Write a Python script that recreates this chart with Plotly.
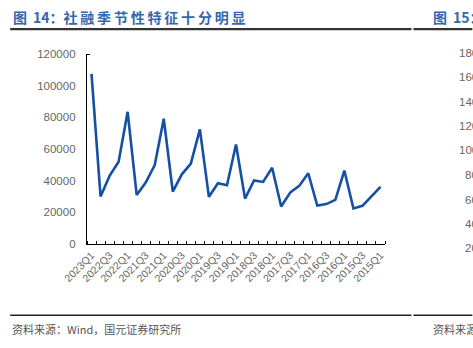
import plotly.graph_objects as go

quarters = ["2023Q1", "2022Q4", "2022Q3", "2022Q2", "2022Q1", "2021Q4", "2021Q3", "2021Q2",
            "2021Q1", "2020Q4", "2020Q3", "2020Q2", "2020Q1", "2019Q4", "2019Q3", "2019Q2",
            "2019Q1", "2018Q4", "2018Q3", "2018Q2", "2018Q1", "2017Q4", "2017Q3", "2017Q2",
            "2017Q1", "2016Q4", "2016Q3", "2016Q2", "2016Q1", "2015Q4", "2015Q3", "2015Q2",
            "2015Q1"]
social_financing = [107400, 30000, 43000, 52000, 83500, 31000, 38800, 49900,
                    79100, 33100, 44000, 50800, 72400, 29800, 38400, 37100,
                    62800, 28700, 40100, 39200, 48200, 23700, 32500, 36700,
                    44700, 24300, 25200, 27900, 46400, 22500, 24100, 30000,
                    36100]
y_ticks = [0, 20000, 40000, 60000, 80000, 100000, 120000]
right_chart_ticks = ["18000", "16000", "14000", "12000", "10000", "8000", "6000", "4000", "2000"]

W, H = 473, 348
L, R, T, B = 87, 87.5, 54, 103.5
PW, PH = W - L - R, H - T - B

def px(x):
    return (x - L) / PW

def py(y):
    return 1 - (y - T) / PH

def spaced(s):
    return "\u2009".join(s)

idx = list(range(len(quarters)))

fig = go.Figure()
fig.add_trace(go.Scatter(
    x=idx, y=social_financing, mode="lines",
    line=dict(color="#1450A3", width=2.6),
    hoverinfo="skip", showlegend=False,
))

gray = "#666666"
fig.update_layout(
    width=W, height=H,
    margin=dict(l=L, r=R, t=T, b=B, autoexpand=False),
    paper_bgcolor="white", plot_bgcolor="white",
    font=dict(family="Liberation Sans, Arial", size=11, color=gray),
    xaxis=dict(
        range=[-0.5, len(quarters) - 0.5],
        tickvals=idx[::2], ticktext=quarters[::2],
        tickangle=-45, ticks="", showgrid=False, zeroline=False,
        showline=True, linecolor="#000000", linewidth=1.3,
        tickfont=dict(size=10.5, color=gray),
        minor=dict(tick0=-0.5, dtick=1, ticks="inside", ticklen=3,
                   tickcolor="#000000", tickwidth=1, showgrid=False),
    ),
    yaxis=dict(
        range=[0, 120000], tickvals=y_ticks, tickformat="d",
        ticks="", showgrid=False, zeroline=False,
        showline=True, linecolor="#000000", linewidth=1.3,
        tickfont=dict(size=11.5, color=gray), ticklabelstandoff=8,
        minor=dict(tickvals=[120000], ticks="inside", ticklen=3,
                   tickcolor="#000000", tickwidth=1, showgrid=False),
    ),
)

shapes = []
shapes.append(dict(type="line", xref="paper", yref="paper", x0=px(10), x1=px(412), y0=py(29), y1=py(29),
                   line=dict(color="#333333", width=2.2)))
shapes.append(dict(type="line", xref="paper", yref="paper", x0=px(414), x1=px(473), y0=py(29), y1=py(29),
                   line=dict(color="#333333", width=2.2)))
shapes.append(dict(type="line", xref="paper", yref="paper", x0=px(10), x1=px(412), y0=py(316), y1=py(316),
                   line=dict(color="#222222", width=1.6)))
shapes.append(dict(type="line", xref="paper", yref="paper", x0=px(414), x1=px(473), y0=py(316), y1=py(316),
                   line=dict(color="#222222", width=1.6)))
fig.update_layout(shapes=shapes)

title_color = "#3467AC"
cjk = "Noto Sans CJK SC"
ann = []
ann.append(dict(text="<b>图\u2009 14：" + spaced("社融季节性特征十分明显") + "</b>", x=px(11), y=py(17),
                xref="paper", yref="paper",
                xanchor="left", yanchor="middle", showarrow=False,
                font=dict(family=cjk, size=14, color=title_color)))
ann.append(dict(text="<b>图\u2009 15：</b>", x=px(432), y=py(17), xref="paper", yref="paper",
                xanchor="left", yanchor="middle", showarrow=False,
                font=dict(family=cjk, size=14, color=title_color)))
ann.append(dict(text="资料来源：Wind，国元证券研究所", x=px(10), y=py(330), xref="paper", yref="paper",
                xanchor="left", yanchor="middle", showarrow=False,
                font=dict(family=cjk, size=11, color="#555555")))
ann.append(dict(text="资料来源：", x=px(432), y=py(330), xref="paper", yref="paper",
                xanchor="left", yanchor="middle", showarrow=False,
                font=dict(family=cjk, size=11, color="#555555")))
ys = [52.7, 77.3, 102, 126.3, 150.7, 175.3, 200, 224.7, 249]
for lab, yy in zip(right_chart_ticks, ys):
    pad = 458 if len(lab) == 5 else 464
    ann.append(dict(text=lab, x=px(pad), y=py(yy), xref="paper", yref="paper",
                    xanchor="left", yanchor="middle", showarrow=False,
                    font=dict(size=11.5, color=gray)))
fig.update_layout(annotations=ann)

fig.write_html("out.html")
